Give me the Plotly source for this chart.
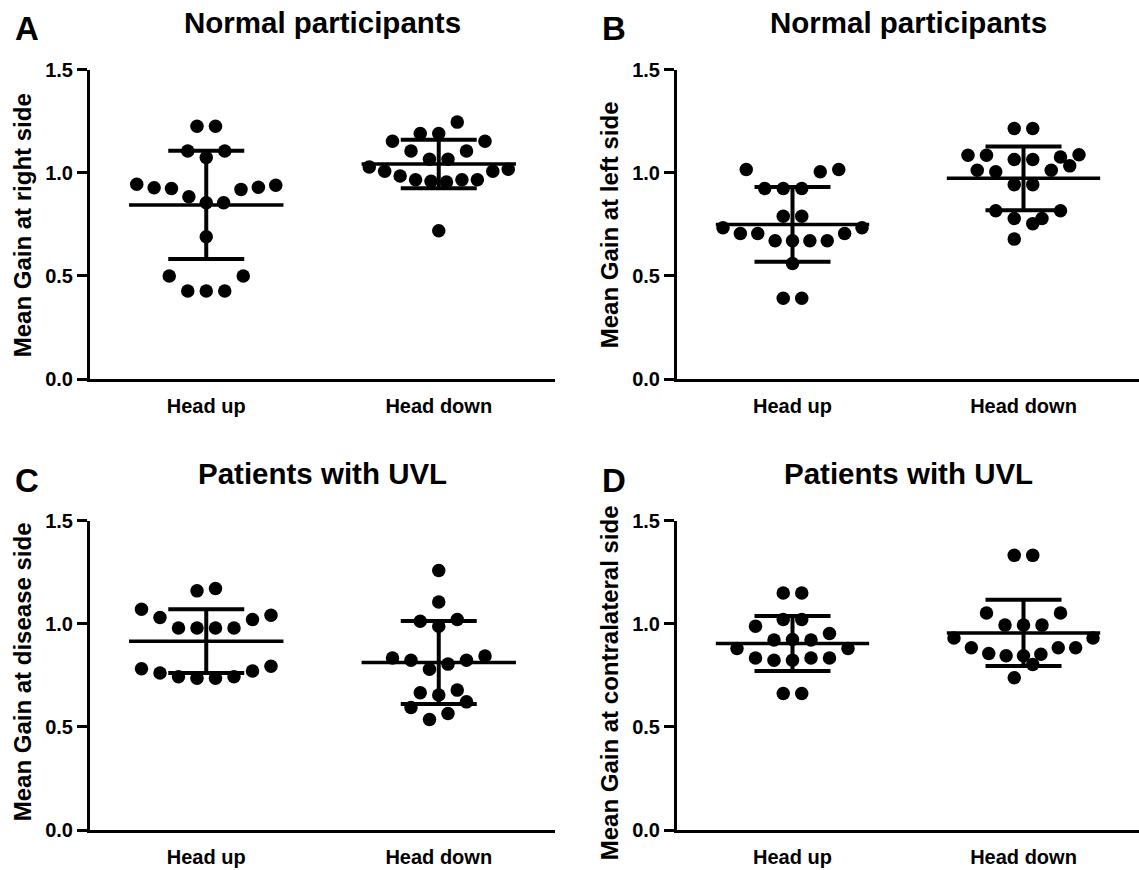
import numpy as np
import plotly.graph_objects as go

W, H = 1139, 870
FONT = "Liberation Sans, Arial, sans-serif"

categories = ["Head up", "Head down"]
panel_letters = ["A", "B", "C", "D"]
panel_titles = ["Normal participants", "Normal participants",
                "Patients with UVL", "Patients with UVL"]
y_titles = ["Mean Gain at right side", "Mean Gain at left side",
            "Mean Gain at disease side", "Mean Gain at contralateral side"]
y_tick_values = [0.0, 0.5, 1.0, 1.5]
y_tick_labels = ["0.0", "0.5", "1.0", "1.5"]

# values per group (entry order)
a_head_up = [0.499, 0.427, 0.427, 0.427, 0.499,
             0.689,
             0.944, 0.927, 0.923, 0.883, 0.854, 0.854, 0.919, 0.929, 0.939,
             1.105, 1.073, 1.105,
             1.225, 1.225]
a_head_down = [0.718,
               1.028, 1.007, 0.984, 0.966, 0.958, 0.955, 0.966, 0.966, 1.007, 1.017,
               1.152, 1.105, 1.065, 1.065, 1.105, 1.152,
               1.190, 1.190, 1.245]
b_head_up = [0.391, 0.391,
             0.560,
             0.733, 0.705, 0.705, 0.670, 0.670, 0.670, 0.670, 0.705, 0.733,
             0.789, 0.789,
             1.015, 0.923, 0.923, 0.923, 1.004, 1.015]
b_head_down = [0.678, 0.753,
               0.815, 0.778, 0.778, 0.815,
               1.012, 1.004, 0.942, 0.942, 1.012, 1.033,
               1.084, 1.084, 1.064, 1.064, 1.076, 1.087,
               1.214, 1.214]
c_head_up = [0.782, 0.761, 0.743, 0.735, 0.735, 0.743, 0.771, 0.794,
             1.070, 1.030, 0.979, 0.979, 0.979, 0.979, 1.020, 1.041,
             1.159, 1.170]
c_head_down = [0.594, 0.536, 0.565, 0.621,
               0.665, 0.654, 0.678,
               0.834, 0.823, 0.779, 0.804, 0.823, 0.843,
               1.012, 0.988, 1.020,
               1.105,
               1.258]
d_head_up = [0.662, 0.662,
             0.880, 0.834, 0.823, 0.823, 0.834, 0.834, 0.880,
             0.988, 0.921, 0.923, 0.921, 0.952,
             1.020, 1.020,
             1.149, 1.149]
d_head_down = [0.738, 0.802,
               0.931, 0.883, 0.855, 0.844, 0.844, 0.852, 0.883, 0.883, 0.931,
               1.052, 0.993, 0.993, 0.993, 1.052,
               1.331, 1.331]

panel_data = [(a_head_up, a_head_down), (b_head_up, b_head_down),
              (c_head_up, c_head_down), (d_head_up, d_head_down)]

# panel geometry in pixels: (left, right, top(1.5), bottom(0))
panel_px = [(90, 555, 69.5, 379), (677, 1139, 69.5, 379),
            (90, 555, 520.5, 830), (677, 1139, 520.5, 830)]
# vertical centre shift of each y-axis title (px)
y_title_shift = [1, 1, -3, 8]


def swarm_offsets(values, px_x, px_y, row_width=0.095, base_step=18.5,
                  max_span=139.0, same_x=5.0, min_dy=17.0):
    """Column-scatter layout: bin values into rows, spread each row
    horizontally, nudge outward where a dot sits on one from the row below."""
    v = np.asarray(values, float)
    order = np.argsort(v, kind="stable")
    rows, cur, start = [], [], None
    for i in order:
        if start is None or v[i] > start + row_width + 1e-9:
            if cur:
                rows.append(sorted(cur))
            cur, start = [i], v[i]
        else:
            cur.append(i)
    if cur:
        rows.append(sorted(cur))
    xs = np.zeros(len(v))
    placed = []
    for row in rows:
        n = len(row)
        step = base_step
        if n > 1 and (n - 1) * base_step > max_span:
            step = max_span / (n - 1)
        slots = [k - (n - 1) / 2 for k in range(n)]

        def collide(x, y):
            return any(abs(x - qx) < same_x and abs(y - qy) < min_dy
                       for qx, qy in placed)

        new = []
        centre = [j for j, s in enumerate(slots) if s == 0]
        for j in centre:
            new.append((row[j], 0.0))
        for sign in (1, -1):
            idx = [j for j, s in enumerate(slots) if s * sign > 0]
            idx.sort(key=lambda j: abs(slots[j]))
            prev = 0.0 if centre else None
            for j in idx:
                x = abs(slots[j]) * step
                if prev is not None:
                    x = max(x, prev + step)
                y = v[row[j]] * px_y
                while collide(sign * x, y):
                    x += step / 2
                new.append((row[j], sign * x))
                prev = x
        for i, x in new:
            xs[i] = x
        placed.extend((x, v[i] * px_y) for i, x in new)
    return xs / px_x


fig = go.Figure()
layout_axes = {}
annotations = []

for p, (groups, (left, right, top, bottom)) in enumerate(zip(panel_data, panel_px)):
    ax = "" if p == 0 else str(p + 1)
    xref, yref = "x" + ax, "y" + ax
    px_x = (right - left) / 2.0
    px_y = (bottom - top) / 1.5
    for ci, vals in enumerate(groups):
        offs = swarm_offsets(vals, px_x, px_y)
        fig.add_trace(go.Scatter(
            x=ci + offs, y=vals, mode="markers", xaxis=xref, yaxis=yref,
            marker=dict(color="black", size=13.5, line=dict(width=0)),
            showlegend=False, hoverinfo="skip", cliponaxis=False))
        m = float(np.mean(vals))
        sd = float(np.std(vals, ddof=1))
        fig.add_trace(go.Scatter(
            x=[ci - 0.332, ci + 0.332], y=[m, m], mode="lines",
            xaxis=xref, yaxis=yref, line=dict(color="black", width=3.5),
            showlegend=False, hoverinfo="skip"))
        fig.add_trace(go.Scatter(
            x=[ci], y=[m], mode="markers", xaxis=xref, yaxis=yref,
            marker=dict(size=1, opacity=0),
            error_y=dict(type="data", array=[sd], visible=True,
                         color="black", thickness=4, width=38),
            showlegend=False, hoverinfo="skip"))

    layout_axes["xaxis" + ax] = dict(
        domain=[left / W, right / W], range=[-0.5, 1.5], anchor=yref,
        tickvals=[0, 1], ticktext=categories, ticks="", showline=True,
        linecolor="black", linewidth=3, showgrid=False, zeroline=False,
        tickfont=dict(family=FONT, size=20, color="black", weight="bold"),
        ticklabelstandoff=7, automargin=False, fixedrange=True)
    layout_axes["yaxis" + ax] = dict(
        domain=[(H - bottom) / H, (H - top) / H], range=[0, 1.5], anchor=xref,
        tickvals=y_tick_values, ticktext=y_tick_labels, ticks="outside",
        ticklen=10, tickwidth=3, tickcolor="black", showline=True,
        linecolor="black", linewidth=3, showgrid=False, zeroline=False,
        tickfont=dict(family=FONT, size=20, color="black", weight="bold"),
        automargin=False, fixedrange=True)

    cx = (left + right) / 2.0
    annotations.append(dict(
        text=panel_titles[p], x=cx / W, y=1 - (top - 47.5) / H,
        xref="paper", yref="paper", xanchor="center", yanchor="middle",
        showarrow=False,
        font=dict(family=FONT, size=29.5, color="black", weight="bold")))
    annotations.append(dict(
        text=panel_letters[p], x=(left - 63) / W, y=1 - (top - 40.5) / H,
        xref="paper", yref="paper", xanchor="center", yanchor="middle",
        showarrow=False,
        font=dict(family=FONT, size=33, color="black", weight="bold")))
    annotations.append(dict(
        text=y_titles[p], x=(left - 68) / W,
        y=1 - ((top + bottom) / 2 + y_title_shift[p]) / H,
        xref="paper", yref="paper", xanchor="center", yanchor="middle",
        textangle=-90, showarrow=False,
        font=dict(family=FONT, size=24, color="black", weight="bold")))

fig.update_layout(
    width=W, height=H, margin=dict(l=0, r=0, t=0, b=0, pad=0),
    autosize=False,
    paper_bgcolor="white", plot_bgcolor="white",
    annotations=annotations, showlegend=False, **layout_axes)

fig.write_html(
    "out.html",
    config={"responsive": False, "displayModeBar": False},
    post_script="document.body.style.margin='0';"
                "document.body.style.overflow='hidden';")
